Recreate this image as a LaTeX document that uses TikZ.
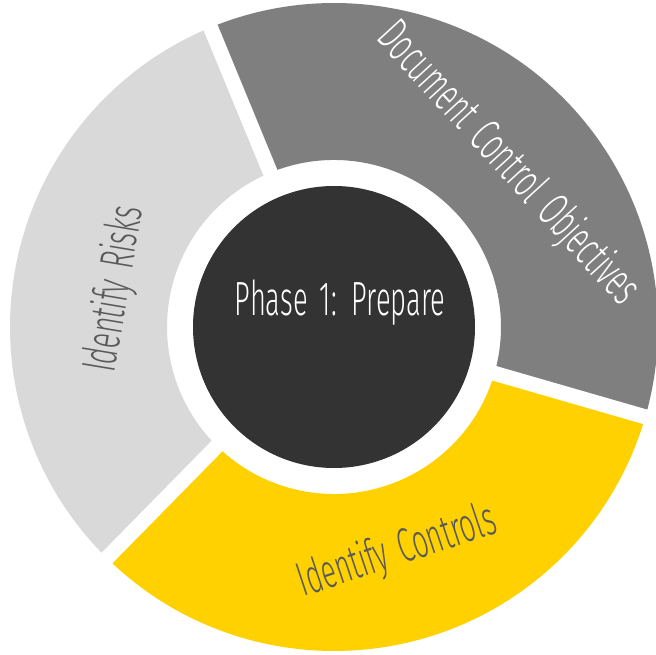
\documentclass[tikz,border=0pt]{standalone}
\usepackage{fontspec}
\setmainfont{Fira Sans}[UprightFont=* Light, WordSpace=1.6]
\definecolor{riskgray}{HTML}{D9D9D9}
\definecolor{objgray}{HTML}{7F7F7F}
\definecolor{ctrlyellow}{HTML}{FFD100}
\definecolor{coredark}{HTML}{333333}
\definecolor{labelgray}{HTML}{595959}
\begin{document}
\begin{tikzpicture}[x=1pt,y=1pt,
  lbl/.style={inner sep=0pt, anchor=base, font=\fontsize{48}{48}\selectfont},
  gap/.style={white, line width=15pt},
]
\useasboundingbox (0,0) rectangle (656,654);
\fill[white] (0,0) rectangle (656,654);
\coordinate (c) at (334,327);
\def\Ro{324}
\def\Ri{167}
% ring segments
\begin{scope}[shift={(c)}]
  \fill[riskgray] (112.4:\Ro) arc[start angle=112.4, end angle=225.5, radius=\Ro]
    -- (225.5:\Ri) arc[start angle=225.5, end angle=112.4, radius=\Ri] -- cycle;
  \fill[ctrlyellow] (225.5:\Ro) arc[start angle=225.5, end angle=343.9, radius=\Ro]
    -- (343.9:\Ri) arc[start angle=343.9, end angle=225.5, radius=\Ri] -- cycle;
  \fill[objgray] (-16.1:\Ro) arc[start angle=-16.1, end angle=112.4, radius=\Ro]
    -- (112.4:\Ri) arc[start angle=112.4, end angle=-16.1, radius=\Ri] -- cycle;
\end{scope}
% separating gaps
\coordinate (g1) at ([shift={(112.4:345)}]c);
\coordinate (g2) at ([shift={(-16.1:345)}]c);
\coordinate (g3) at ([shift={(225.5:345)}]c);
\draw[gap] (c) -- (g1);
\draw[gap] (c) -- (g2);
\draw[gap] (c) -- (g3);
% hub
\node[circle, fill=coredark, minimum size=282pt, inner sep=0pt] (core) at (c) {};
% labels: narrow lettering, squeezed along the baseline before turning
\node[lbl, text=white, xscale=0.57] (phase) at (340,338) {Phase 1: Prepare};
\node[lbl, text=labelgray, rotate=80.5, xscale=0.57] (risks) at (128.5,362.5) {Identify Risks};
\node[lbl, text=labelgray, rotate=18.4, xscale=0.57] (controls) at (401.5,89.5) {Identify Controls};
\node[lbl, text=white, rotate=-47.5, xscale=0.57] (objectives) at (498,481) {Document Control Objectives};
\end{tikzpicture}
\end{document}
